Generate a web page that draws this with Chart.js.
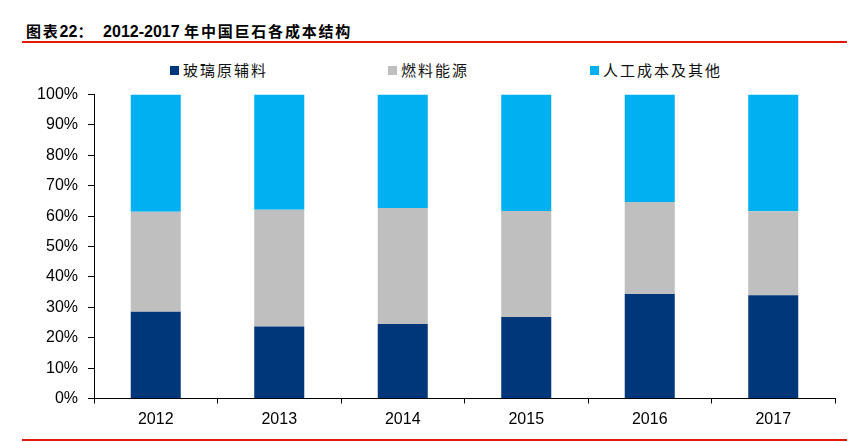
<!DOCTYPE html>
<html>
<head>
<meta charset="utf-8">
<script src="https://cdn.jsdelivr.net/npm/chart.js@4"></script>
<style>
    html, body { margin: 0; padding: 0; background: #fff; }
    #wrap   { position: relative; width: 858px; height: 442px; overflow: hidden; }
    #chart  { position: absolute; left: 0; top: 0; }
    #title  { position: absolute; left: 26px; top: 20px; font: bold 16px "Liberation Sans", "Noto Sans CJK SC"; color: #000; white-space: nowrap; }
    #title .cn { font-family: "Noto Sans CJK SC"; font-size: 15px; letter-spacing: 1.8px; }
    .rule   { position: absolute; left: 22px; width: 825px; height: 2px; background: #E3170D; }
    .legend-item { position: absolute; top: 60px; font: 15px "Noto Sans CJK SC"; letter-spacing: 2px; color: #111; white-space: nowrap; line-height: 20px; }
    .legend-item i { display: inline-block; width: 9px; height: 9px; margin-right: 4px; vertical-align: 1px; }
</style>
</head>
<body>
<div id="wrap">
    <div id="title"><span class="cn">图表</span>22<span class="cn">：</span>&nbsp;&nbsp;2012-2017 <span class="cn">年中国巨石各成本结构</span></div>
    <div class="rule" style="top:41px"></div>
    <div id="legend"></div>
    <canvas id="chart" width="858" height="442"></canvas>
    <div class="rule" style="top:439px"></div>
</div>
<script>
// ── Data ──────────────────────────────────────────────────────────
const years       = ['2012', '2013', '2014', '2015', '2016', '2017'];
const seriesNames = ['玻璃原辅料', '燃料能源', '人工成本及其他'];
const glassRaw    = [28.5, 23.7, 24.5, 26.8, 34.4, 34.0];
const fuelEnergy  = [32.9, 38.4, 38.2, 34.9, 30.2, 27.6];
const laborOther  = [38.6, 37.9, 37.3, 38.3, 35.4, 38.4];
const yTicks      = [0, 10, 20, 30, 40, 50, 60, 70, 80, 90, 100];

const colors   = ['#00377A', '#BFBFBF', '#00B0F0'];
const legendX  = [170, 388, 590];
const FONT     = '"Liberation Sans", Arial, sans-serif';

// ── Legend (HTML, spaced like the original) ──────────────────────
const legendEl = document.getElementById('legend');
seriesNames.forEach((name, i) => {
    const div = document.createElement('div');
    div.className = 'legend-item';
    div.style.left = legendX[i] + 'px';
    div.innerHTML = `<i style="background:${colors[i]}"></i>${name}`;
    legendEl.appendChild(div);
});

// ── Chart ─────────────────────────────────────────────────────────
const datasets = [glassRaw, fuelEnergy, laborOther].map((data, i) => ({
    label: seriesNames[i],
    data,
    backgroundColor: colors[i],
    borderWidth: 0,
    categoryPercentage: 1,
    barPercentage: 0.405
}));

new Chart(document.getElementById('chart'), {
    type: 'bar',
    data: { labels: years, datasets },
    options: {
        responsive: false,
        animation: false,
        layout: { padding: { top: 94.5, left: 0, right: 23, bottom: 0 } },
        plugins: {
            legend:  { display: false },
            tooltip: { enabled: false }
        },
        scales: {
            x: {
                stacked: true,
                afterFit: s => { s.height = 43.5; },
                grid:   { offset: true, drawOnChartArea: false, tickLength: 5, color: '#000' },
                border: { color: '#000' },
                ticks:  { color: '#000', font: { family: FONT, size: 16 }, padding: 6 }
            },
            y: {
                stacked: true,
                min: 0,
                max: 100,
                afterFit: s => { s.width = 94; },
                afterBuildTicks: s => { s.ticks = yTicks.map(v => ({ value: v })); },
                grid:   { drawOnChartArea: false, tickLength: 6, color: '#000' },
                border: { color: '#000' },
                ticks:  {
                    color: '#000',
                    font: { family: FONT, size: 16 },
                    padding: 10,
                    callback: v => v + '%'
                }
            }
        }
    }
});
</script>
</body>
</html>
